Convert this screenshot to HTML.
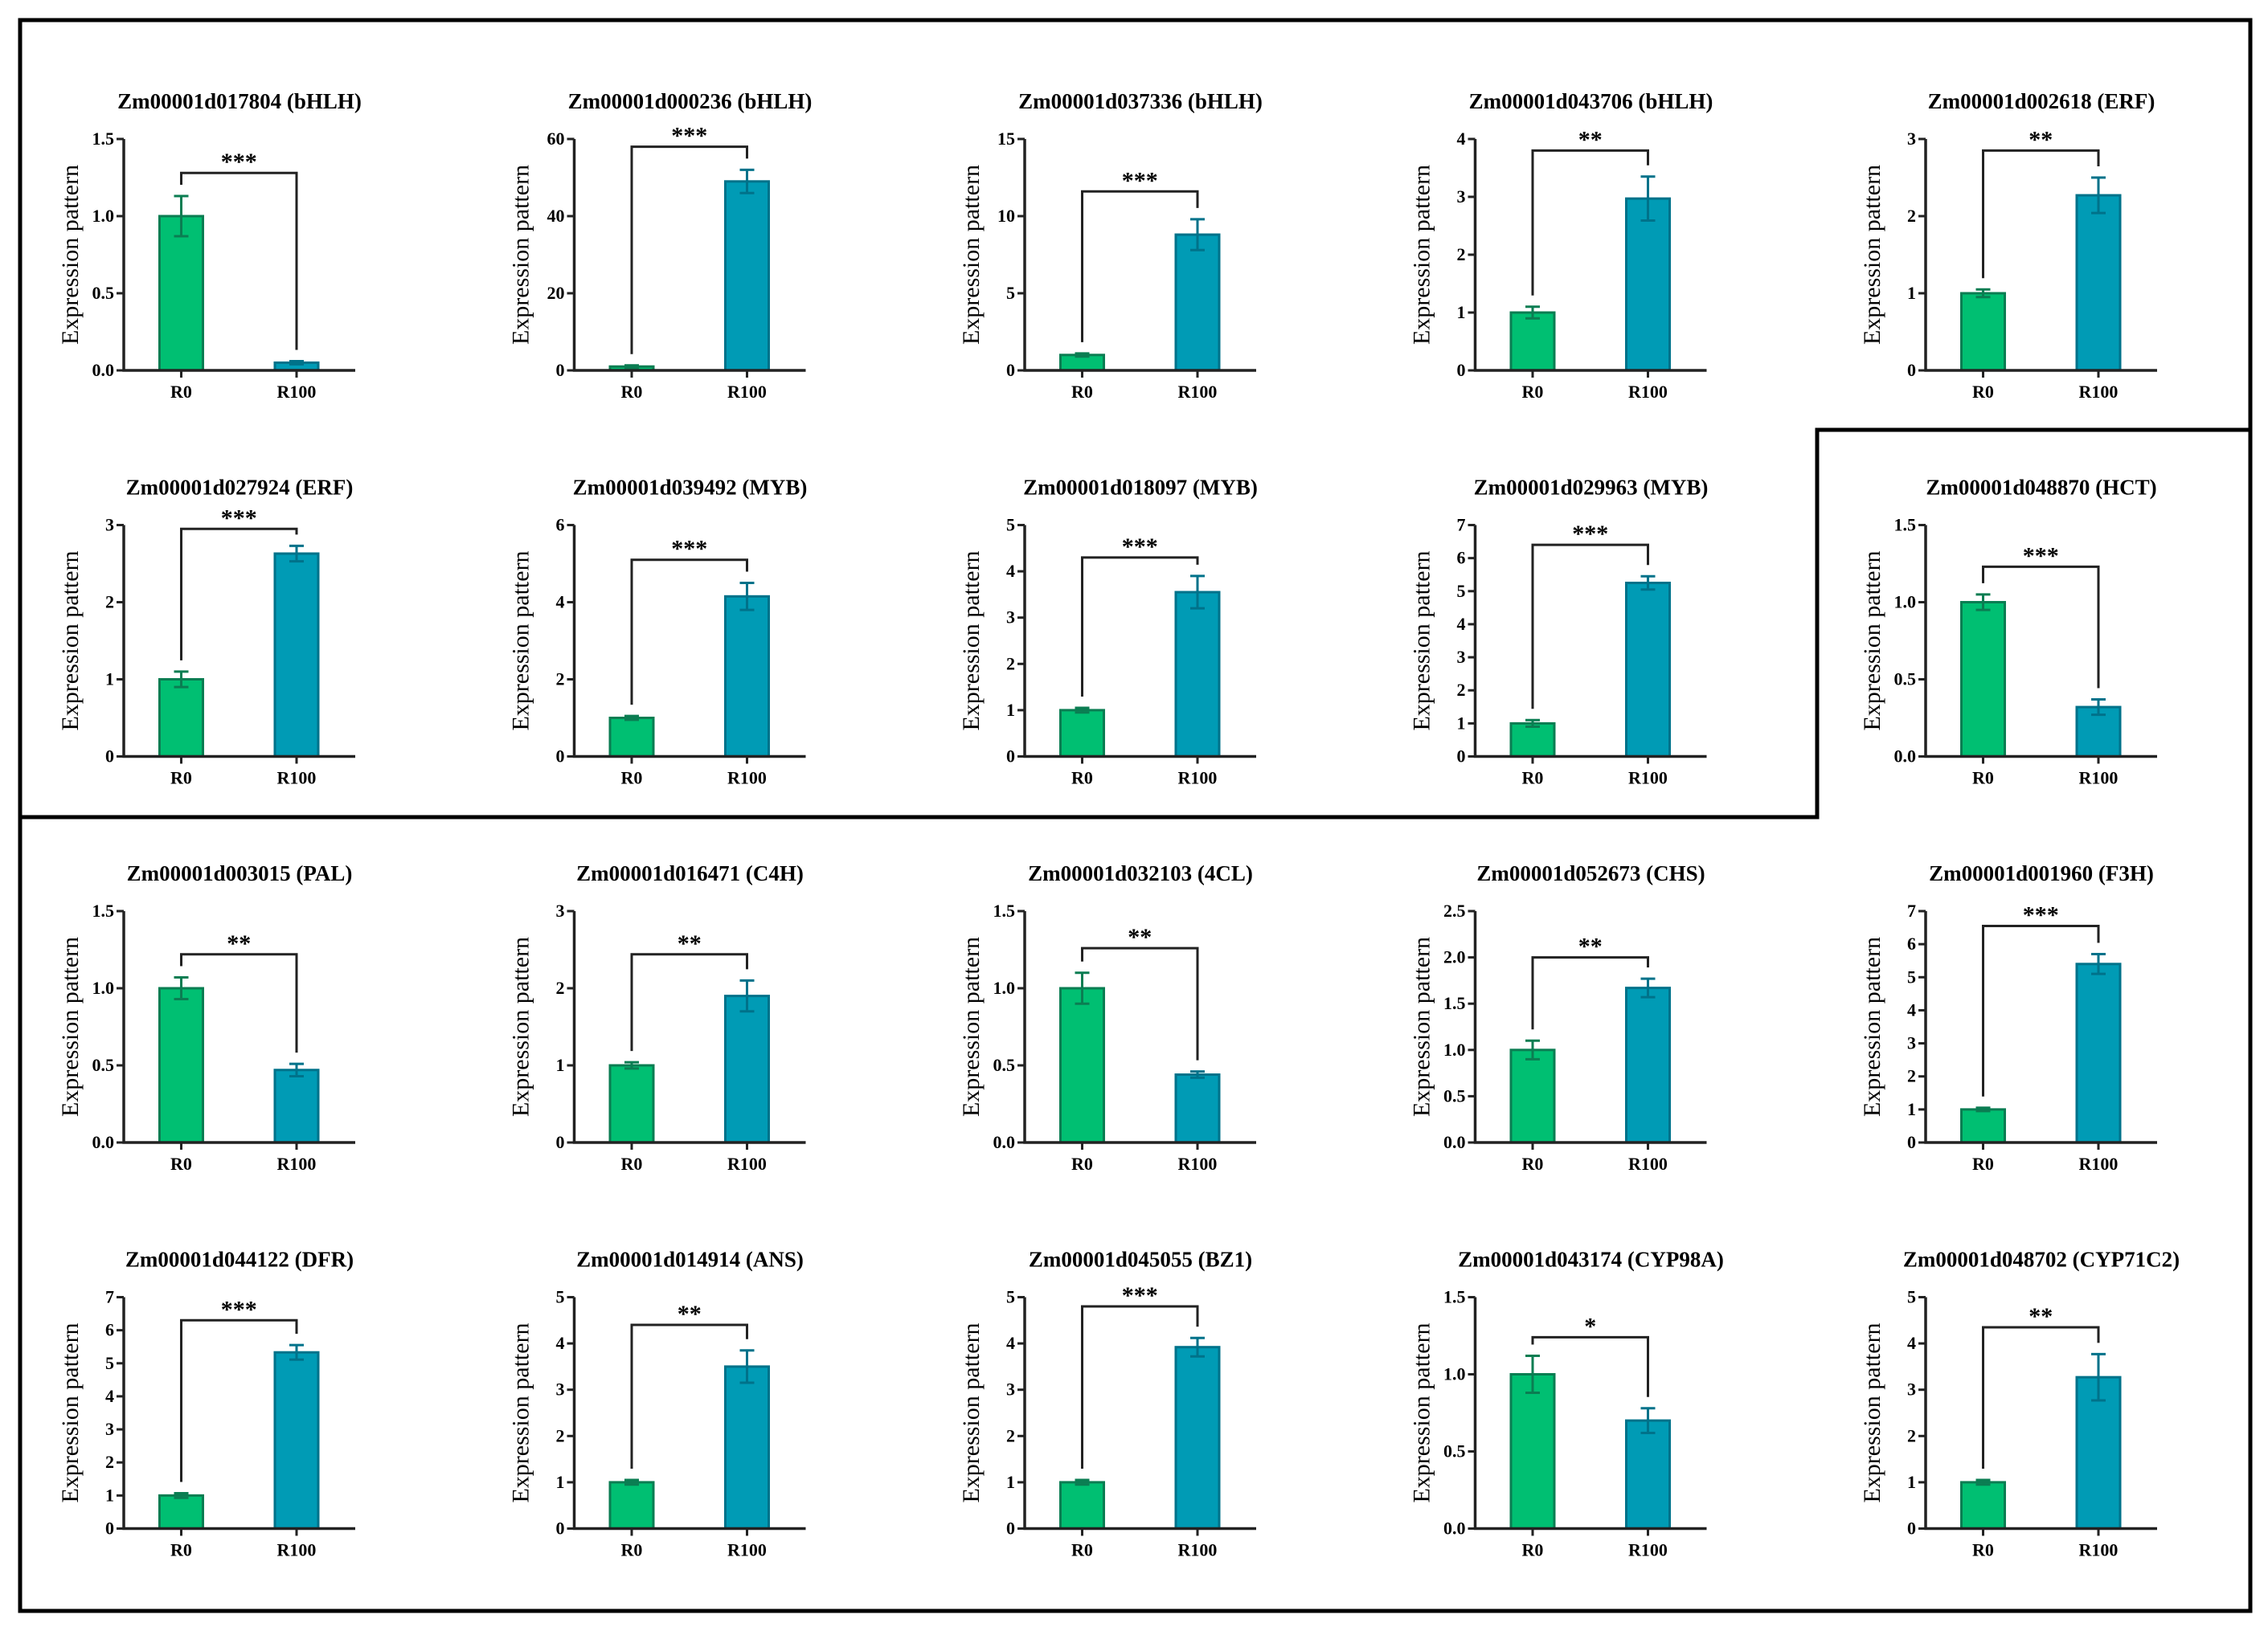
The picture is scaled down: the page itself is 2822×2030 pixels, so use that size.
<!DOCTYPE html>
<html><head><meta charset="utf-8"><style>
html,body{margin:0;padding:0;background:#fff;}
svg{display:block;}
text{font-family:"Liberation Serif",serif;}
</style></head><body>
<svg id="fig" width="2822" height="2030" viewBox="0 0 2822 2030" xmlns="http://www.w3.org/2000/svg">
<rect x="25" y="25" width="2775" height="1980" fill="none" stroke="#000" stroke-width="5"/>
<polyline points="25,1017 2261,1017 2261,535 2800,535" fill="none" stroke="#000" stroke-width="5"/>
</svg>
<script>
const titles = ["Zm00001d017804 (bHLH)","Zm00001d000236 (bHLH)","Zm00001d037336 (bHLH)","Zm00001d043706 (bHLH)","Zm00001d002618 (ERF)",
"Zm00001d027924 (ERF)","Zm00001d039492 (MYB)","Zm00001d018097 (MYB)","Zm00001d029963 (MYB)","Zm00001d048870 (HCT)",
"Zm00001d003015 (PAL)","Zm00001d016471 (C4H)","Zm00001d032103 (4CL)","Zm00001d052673 (CHS)","Zm00001d001960 (F3H)",
"Zm00001d044122 (DFR)","Zm00001d014914 (ANS)","Zm00001d045055 (BZ1)","Zm00001d043174 (CYP98A)","Zm00001d048702 (CYP71C2)"];
const categories = ["R0","R100"];
const r0Values = [1,1,1,1,1, 1,1,1,1,1, 1,1,1,1,1, 1,1,1,1,1];
const r0Errors = [0.13,0.3,0.1,0.1,0.05, 0.1,0.05,0.05,0.1,0.05, 0.07,0.04,0.1,0.1,0.05, 0.07,0.05,0.05,0.12,0.05];
const r100Values = [0.05,49,8.8,2.97,2.27, 2.63,4.15,3.55,5.25,0.32, 0.47,1.9,0.44,1.67,5.4, 5.33,3.5,3.92,0.7,3.27];
const r100Errors = [0.01,3,1,0.38,0.23, 0.1,0.35,0.35,0.2,0.05, 0.04,0.2,0.02,0.1,0.3, 0.22,0.35,0.2,0.08,0.5];
const yMax = [1.5,60,15,4,3, 3,6,5,7,1.5, 1.5,3,1.5,2.5,7, 7,5,5,1.5,5];
const yStep = [0.5,20,5,1,1, 1,2,1,1,0.5, 0.5,1,0.5,0.5,1, 1,1,1,0.5,1];
const tickDecimals = [1,0,0,0,0, 0,0,0,0,1, 1,0,1,1,0, 0,0,0,1,0];
const stars = ["***","***","***","**","**", "***","***","***","***","***", "**","**","**","**","***", "***","**","***","*","**"];
const bracketLevel = [1.28,58,11.6,3.8,2.85, 2.95,5.1,4.3,6.4,1.23, 1.22,2.44,1.26,2.0,6.55, 6.3,4.4,4.8,1.24,4.35];

const NS="http://www.w3.org/2000/svg";
const svg=document.getElementById('fig');
function mk(tag,attrs,parent){const e=document.createElementNS(NS,tag);for(const k in attrs)e.setAttribute(k,attrs[k]);(parent||svg).appendChild(e);return e;}
const fills=["#00BF72","#009BB5"], strokes=["#0b7d52","#00728a"];
for(let i=0;i<titles.length;i++){
  const col=i%5,row=Math.floor(i/5);
  const ax=154+560.5*col, zero=461+480.5*row, H=288, W=288;
  const ys=v=>zero-v/yMax[i]*H;
  const g=mk('g',{});
  
  
  const t=mk('text',{x:ax+144,y:zero-326,'text-anchor':'middle','font-size':27,'font-weight':'bold'},g);
  t.textContent=titles[i];
  
  
  const yl=mk('text',{x:0,y:0,transform:`translate(${ax-57},${zero-H/2}) rotate(-90)`,'text-anchor':'middle','font-size':30},g);
  yl.textContent="Expression pattern";
  
  
  // ticks
  const n=Math.round(yMax[i]/yStep[i]);
  for(let k=0;k<=n;k++){
    const v=k*yStep[i], y=ys(v);
    const tl=mk('line',{x1:ax-9,x2:ax,y1:y,y2:y,stroke:'#222','stroke-width':3},g);
    
    
    const tx=mk('text',{x:ax-12,y:y+7,'text-anchor':'end','font-size':22,'font-weight':'bold'},g);
    tx.textContent=v.toFixed(tickDecimals[i]);
    
    
  }
  const vals=[r0Values[i],r100Values[i]], errs=[r0Errors[i],r100Errors[i]];
  const cx=[ax+71.5,ax+215];
  for(let b=0;b<2;b++){
    const top=ys(vals[b]);
    const r=mk('rect',{x:cx[b]-27,y:top,width:54,height:zero-top,fill:fills[b],stroke:strokes[b],'stroke-width':3},g);
    
    
    const e1=ys(vals[b]+errs[b]), e2=ys(vals[b]-errs[b]);
    const eb=mk('path',{d:`M${cx[b]},${e1}V${e2}M${cx[b]-9},${e1}H${cx[b]+9}M${cx[b]-9},${e2}H${cx[b]+9}`,stroke:strokes[b],'stroke-width':3,fill:'none'},g);
    
    
    const xt=mk('line',{x1:cx[b],x2:cx[b],y1:zero,y2:zero+9,stroke:'#222','stroke-width':3},g);
    
    
    const cl=mk('text',{x:cx[b],y:zero+34,'text-anchor':'middle','font-size':22,'font-weight':'bold'},g);
    cl.textContent=categories[b];
    
    
  }
  const axl=mk('path',{d:`M${ax},${zero-H}V${zero}H${ax+W}`,stroke:'#222','stroke-width':3.5,fill:'none'},g);
  
  
  const by=ys(bracketLevel[i]);
  const l0=ys(vals[0]+errs[0])-14, l1=ys(vals[1]+errs[1])-14;
  const br=mk('path',{d:`M${cx[0]},${l0}V${by}H${cx[1]}V${l1}`,stroke:'#222','stroke-width':3,fill:'none'},g);
  
  
  const st=mk('text',{x:(cx[0]+cx[1])/2,y:by-4,'text-anchor':'middle','font-size':30,'font-weight':'bold'},g);
  st.textContent=stars[i];
  
  
}
</script>
</body></html>
